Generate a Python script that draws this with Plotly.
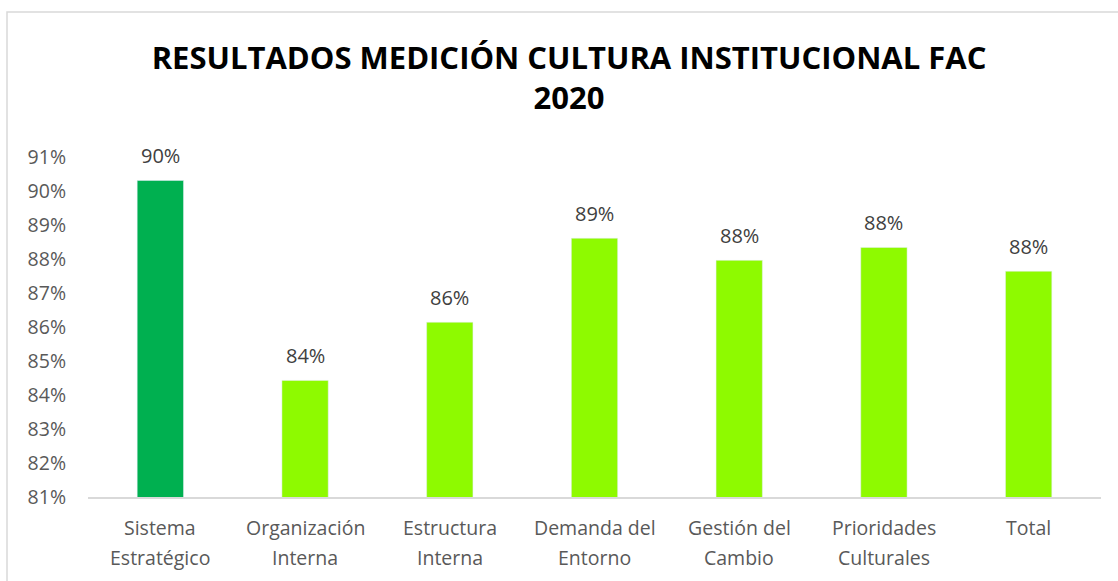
import plotly.graph_objects as go

categories = ["Sistema Estratégico", "Organización Interna", "Estructura Interna",
              "Demanda del Entorno", "Gestión del Cambio", "Prioridades Culturales", "Total"]
label_line1 = ["Sistema", "Organización", "Estructura", "Demanda del", "Gestión del", "Prioridades", "Total"]
label_line2 = ["Estratégico", "Interna", "Interna", "Entorno", "Cambio", "Culturales", ""]
values = [90.31, 84.43, 86.14, 88.61, 87.96, 88.34, 87.64]
colors = ["#00B050", "#8EFA00", "#8EFA00", "#8EFA00", "#8EFA00", "#8EFA00", "#8EFA00"]
tick_vals = list(range(81, 92))
tick_text = [f"{v}%" for v in tick_vals]

W, H = 1118, 581
ml, mr, mt, mb = 88, 17, 157, 84
pw, ph = W - ml - mr, H - mt - mb
FONT = "Open Sans"

fig = go.Figure(go.Bar(
    x=categories, y=values, marker_color=colors, width=0.32,
))

annotations = []
for c, v in zip(categories, values):
    annotations.append(dict(x=c, y=v, xref="x", yref="y", text=f"{round(v)}%",
                            showarrow=False, yanchor="middle", yshift=25,
                            font=dict(family=FONT, size=20, color="#404040")))
for c, l1, l2 in zip(categories, label_line1, label_line2):
    annotations.append(dict(x=c, y=(mt + ph - 527) / ph, xref="x", yref="paper", text=l1,
                            showarrow=False, yanchor="middle",
                            font=dict(family=FONT, size=19.5, color="#595959")))
    if l2:
        annotations.append(dict(x=c, y=(mt + ph - 557) / ph, xref="x", yref="paper", text=l2,
                                showarrow=False, yanchor="middle",
                                font=dict(family=FONT, size=19.5, color="#595959")))

fig.update_layout(
    width=W, height=H,
    margin=dict(l=ml, r=mr, t=mt, b=mb),
    paper_bgcolor="white", plot_bgcolor="white",
    title=dict(text="<b>RESULTADOS MEDICIÓN CULTURA INSTITUCIONAL FAC<br>2020</b>",
               x=0.509, xanchor="center", y=1 - 69 / H, yanchor="top",
               font=dict(family=FONT, size=31, color="black")),
    showlegend=False,
    annotations=annotations,
    xaxis=dict(showline=True, linecolor="#D9D9D9", linewidth=1.5, ticks="",
               showticklabels=False),
    yaxis=dict(range=[81, 91], tickvals=tick_vals, ticktext=tick_text, showgrid=False,
               zeroline=False, showline=False, ticks="", ticklabelstandoff=21,
               tickfont=dict(family=FONT, size=19.5, color="#595959")),
    shapes=[dict(type="rect", xref="paper", yref="paper",
                 x0=(7 - ml) / pw, x1=(W + 20 - ml) / pw,
                 y0=-(H + 20 - (mt + ph)) / ph, y1=(mt + ph - 12) / ph,
                 line=dict(color="#D9D9D9", width=1.5), fillcolor="rgba(0,0,0,0)", layer="below")],
)

fig.write_html("out.html", config={"displayModeBar": False},
               post_script="document.body.style.margin='0';document.body.style.overflow='hidden';")
